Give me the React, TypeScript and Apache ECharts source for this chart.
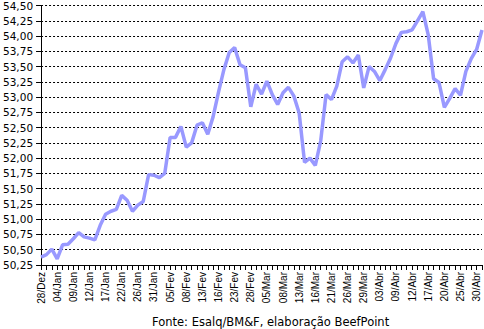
import React, { useEffect, useRef } from "react";
import * as echarts from "echarts";

const categories: string[] = [
  "28/Dez", "29/Dez", "03/Jan", "04/Jan", "05/Jan", "08/Jan", "09/Jan", "10/Jan", "11/Jan", "12/Jan",
  "15/Jan", "16/Jan", "17/Jan", "18/Jan", "19/Jan", "22/Jan", "23/Jan", "24/Jan", "26/Jan", "29/Jan",
  "30/Jan", "31/Jan", "01/Fev", "02/Fev", "05/Fev", "06/Fev", "07/Fev", "08/Fev", "09/Fev", "12/Fev",
  "13/Fev", "14/Fev", "15/Fev", "16/Fev", "21/Fev", "22/Fev", "23/Fev", "26/Fev", "27/Fev", "28/Fev",
  "01/Mar", "02/Mar", "05/Mar", "06/Mar", "07/Mar", "08/Mar", "09/Mar", "12/Mar", "13/Mar", "14/Mar",
  "15/Mar", "16/Mar", "19/Mar", "20/Mar", "21/Mar", "22/Mar", "23/Mar", "26/Mar", "27/Mar", "28/Mar",
  "29/Mar", "30/Mar", "02/Abr", "03/Abr", "04/Abr", "05/Abr", "09/Abr", "10/Abr", "11/Abr", "12/Abr",
  "13/Abr", "16/Abr", "17/Abr", "18/Abr", "19/Abr", "20/Abr", "23/Abr", "24/Abr", "25/Abr", "26/Abr",
  "27/Abr", "30/Abr", "02/Mai",
];

const prices: number[] = [
  50.38, 50.42, 50.51, 50.35, 50.58, 50.59, 50.68, 50.78, 50.71, 50.69,
  50.66, 50.90, 51.08, 51.13, 51.16, 51.39, 51.31, 51.13, 51.23, 51.29,
  51.73, 51.72, 51.68, 51.75, 52.34, 52.34, 52.52, 52.18, 52.25, 52.54,
  52.58, 52.39, 52.68, 53.08, 53.45, 53.73, 53.81, 53.53, 53.48, 52.84,
  53.21, 53.05, 53.26, 53.04, 52.88, 53.07, 53.16, 53.02, 52.74, 51.93,
  52.00, 51.88, 52.28, 53.04, 52.96, 53.18, 53.58, 53.66, 53.56, 53.69,
  53.15, 53.50, 53.42, 53.27, 53.45, 53.64, 53.88, 54.06, 54.07, 54.10,
  54.25, 54.40, 54.02, 53.30, 53.24, 52.83, 52.98, 53.14, 53.03, 53.42,
  53.63, 53.78, 54.10,
];

const yMin = 50.25;
const yMax = 54.5;
const yStep = 0.25;
const footerText = "Fonte: Esalq/BM&F, elaboração BeefPoint";

export default function App() {
  const ref = useRef<HTMLDivElement>(null);
  useEffect(() => {
    if (!ref.current) return;
    const chart = echarts.init(ref.current, undefined, { renderer: "svg" });
    chart.setOption({
      animation: false,
      backgroundColor: "#ffffff",
      grid: { left: 39, right: 2, top: 4, bottom: 64, containLabel: false },
      xAxis: {
        type: "category",
        data: categories,
        boundaryGap: false,
        axisLine: { show: true, lineStyle: { color: "#000", width: 1 } },
        axisTick: { show: true, interval: 0, length: 5, lineStyle: { color: "#000" } },
        axisLabel: {
          interval: 2,
          rotate: 90,
          margin: 7,
          color: "#000",
          fontFamily: "Liberation Sans",
          fontSize: 10,
        },
        splitLine: { show: false },
      },
      yAxis: {
        type: "value",
        min: yMin,
        max: yMax,
        interval: yStep,
        axisLine: { show: true, lineStyle: { color: "#000", width: 1 } },
        axisTick: { show: true, length: 5, lineStyle: { color: "#000" } },
        axisLabel: {
          margin: 8,
          color: "#000",
          fontFamily: "DejaVu Sans",
          fontSize: 10.5,
          formatter: (v: number) => v.toFixed(2).replace(".", ","),
        },
        splitLine: {
          show: true,
          lineStyle: { color: "#000", width: 1, type: [2, 2] },
        },
      },
      series: [
        {
          type: "line",
          data: prices,
          symbol: "none",
          lineStyle: { color: "#9999ff", width: 3.5 },
          itemStyle: { color: "#9999ff" },
        },
      ],
      graphic: [
        {
          type: "text",
          left: 152,
          top: 316,
          style: {
            text: footerText,
            fill: "#000",
            font: "11.5px 'DejaVu Sans'",
          },
        },
      ],
    });
    return () => chart.dispose();
  }, []);
  return (
    <div style={{ position: "fixed", left: 0, top: 0 }}>
      <div ref={ref} style={{ width: 484, height: 329 }} />
    </div>
  );
}
